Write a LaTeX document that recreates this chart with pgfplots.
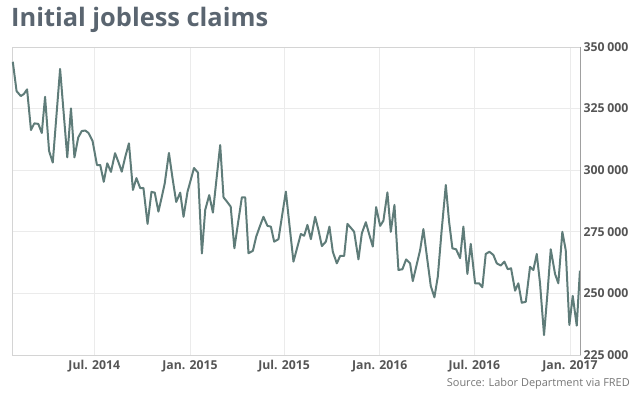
\documentclass[border=0pt]{standalone}
\usepackage{fontspec}
\setmainfont{Open Sans}
\usepackage{pgfplots}
\pgfplotsset{compat=1.18}
\definecolor{linec}{HTML}{5F7C79}
\definecolor{titlec}{HTML}{5A6570}
\definecolor{tickc}{HTML}{555555}
\definecolor{srcc}{HTML}{777777}
\definecolor{gridc}{HTML}{EBEBEB}
\definecolor{framec}{HTML}{D4D4D4}
\definecolor{rightc}{HTML}{A0A0A0}
\pgfplotstableread{
day value
24.3 344000
31.6 332100
39.7 330100
45.5 330900
51.8 332800
59.3 316300
65.7 319000
73.4 318800
80.1 315100
86.4 329800
94.1 307800
101.2 303100
115.3 341100
129.1 305200
136.2 325100
142.9 305200
150.2 313300
157.0 315900
163.7 316100
169.9 315100
177.7 311900
186.2 302100
192.5 302100
199.3 295300
206.0 302800
213.1 299300
221.0 306900
227.5 303300
233.9 299400
240.6 305400
247.7 310900
255.4 292000
262.1 296800
269.4 292700
275.6 292800
283.5 278200
291.0 291200
297.3 290900
304.4 283200
310.8 289100
316.5 294600
324.6 307000
331.5 296800
338.6 287100
346.3 290900
352.7 281100
360.4 291300
366.5 296000
372.8 300900
380.5 299000
388.0 266200
394.4 283900
402.1 289900
409.2 282800
416.1 296400
423.2 310200
429.6 289000
436.7 287100
443.4 285200
450.5 268300
457.8 279000
464.9 289000
471.3 289000
477.6 266300
486.1 267300
492.4 273000
499.1 277000
506.4 281100
514.1 277400
520.7 277100
527.0 271000
535.3 272000
542.4 281800
549.5 291300
556.8 277000
564.1 262900
571.8 269000
578.3 274100
584.7 273400
591.0 277800
597.6 272000
605.8 281100
612.6 275300
618.7 269200
626.4 271000
633.3 277100
639.8 266900
647.5 262200
653.9 265200
661.6 265200
667.9 278200
675.0 276500
680.8 275000
689.1 263800
695.6 274400
703.3 278900
709.6 274100
716.7 269000
723.1 285000
730.8 277400
737.1 279500
744.8 291000
751.3 275000
758.3 285900
766.0 259500
773.6 259800
780.8 263800
788.4 262200
793.6 255000
800.9 261500
807.7 267600
814.0 276100
821.1 264400
828.2 253000
835.2 248400
841.7 256800
849.0 275300
857.1 294000
863.4 279100
869.8 268300
876.9 267900
884.6 264300
890.9 277100
898.6 257900
905.1 270100
913.4 254100
921.1 254100
927.4 252500
933.9 266000
940.9 266900
948.6 265600
955.1 262200
962.8 261300
969.7 262900
976.2 259800
982.6 260200
990.3 251100
996.6 254100
1003.2 246200
1010.9 246600
1019.1 260800
1025.5 259500
1032.0 266000
1038.3 254100
1046.0 233100
1052.8 250600
1058.9 267900
1067.2 257900
1073.5 254100
1081.2 275000
1087.7 267600
1094.7 237200
1101.2 249000
1108.9 236900
1115.0 259200
}\claims
\begin{document}
\begin{tikzpicture}[x=1bp,y=1bp]
\useasboundingbox (0,0) rectangle (640,394);
\node[anchor=base west, inner sep=0, text=titlec, font=\fontsize{25.5}{30}\selectfont\bfseries] at (11,367.3) {Initial jobless claims};
\node[anchor=base east, inner sep=0, text=srcc, font=\fontsize{11}{13}\selectfont] at (630,7.3) {Source: Labor Department via FRED};
\begin{axis}[
  at={(12bp,39bp)}, anchor=south west,
  scale only axis, width=568bp, height=308bp,
  xmin=22.8, xmax=1115.2, ymin=225000, ymax=350000,
  xtick={181,365,546,730,912,1096},
  xticklabels={Jul. 2014,Jan. 2015,Jul. 2015,Jan. 2016,Jul. 2016,Jan. 2017},
  ytick={225000,250000,275000,300000,325000,350000},
  yticklabels={225\hspace{0.24em}000,250\hspace{0.24em}000,275\hspace{0.24em}000,300\hspace{0.24em}000,325\hspace{0.24em}000,350\hspace{0.24em}000},
  scaled y ticks=false,
  yticklabel pos=right,
  grid=major, major grid style={gridc, line width=0.8bp},
  axis line style={framec, line width=0.8bp},
  major tick length=0pt,
  tick label style={font=\fontsize{12.3}{14}\selectfont\bfseries, text=tickc},
  yticklabel style={anchor=west, xshift=0bp},
  xticklabel style={anchor=base, yshift=-14bp},
  clip=false,
]
\addplot[linec, line width=2bp, line join=round, no markers] table[x=day, y=value] {\claims};
\draw[rightc, line width=0.9bp] (rel axis cs:1,0) -- (rel axis cs:1,1);
\end{axis}
\end{tikzpicture}
\end{document}
